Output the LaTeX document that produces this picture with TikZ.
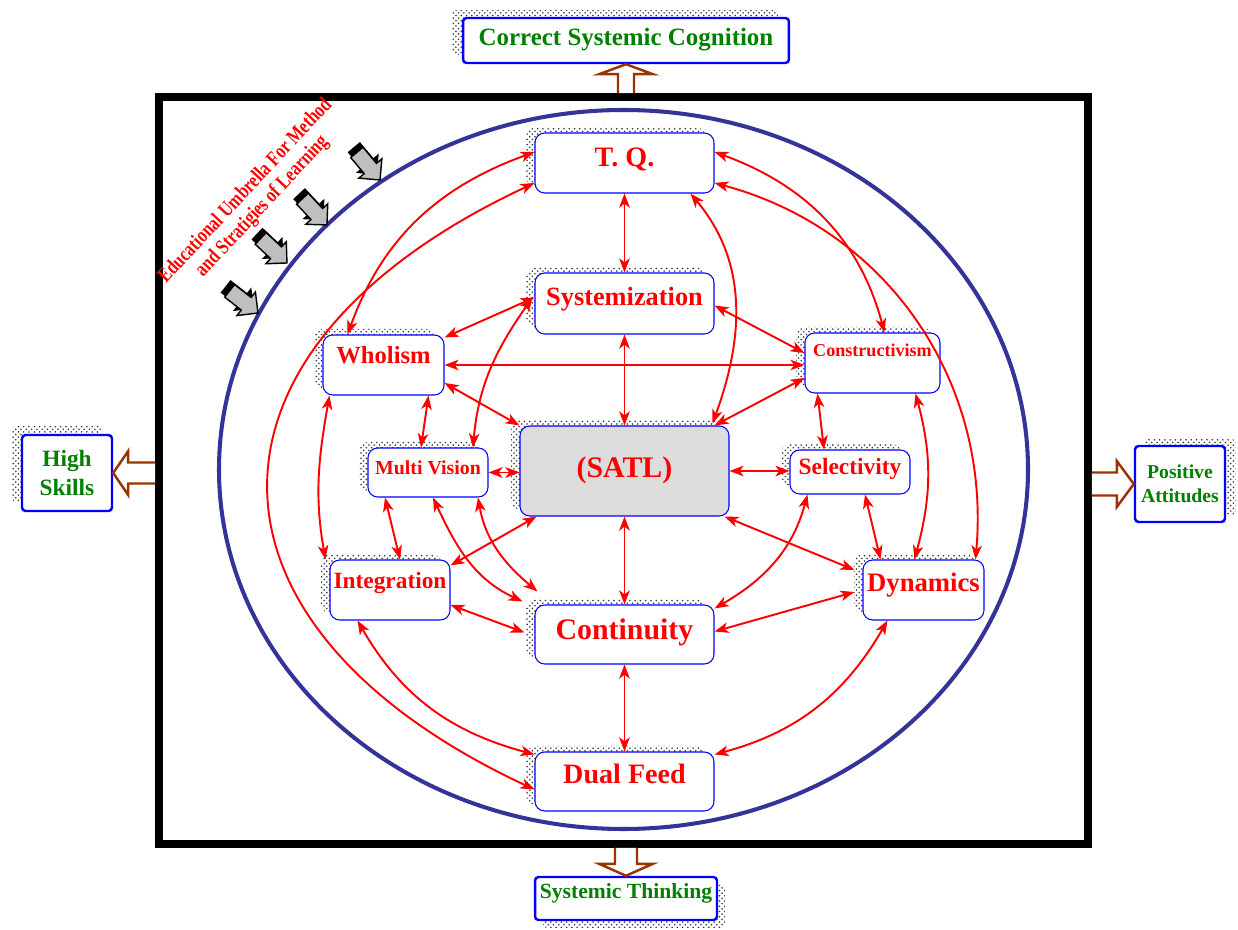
\documentclass[tikz,border=0pt]{standalone}
\usepackage{fontspec}
\setmainfont{Liberation Serif}
\usetikzlibrary{arrows.meta,calc,shadows,patterns}
\definecolor{navy}{RGB}{51,51,153}
\definecolor{rust}{RGB}{153,51,0}
\definecolor{satlgray}{RGB}{220,220,220}
\definecolor{leafgreen}{RGB}{0,128,0}
\newcommand{\bigw}{3.58cm}
\newcommand{\midw}{2.4cm}
\newcommand{\rowh}{1.2cm}

\begin{document}
\begin{tikzpicture}[x=0.02cm, y=0.02cm,
    >={Stealth[length=8pt,width=6pt,inset=2.2pt]},
    dotshade/.style 2 args={general shadow={shadow xshift=#1, shadow yshift=#2,
        pattern=crosshatch dots, pattern color=black!80}},
    fs/.style={font=\bfseries\fontsize{#1}{#1}\selectfont},
    box/.style={draw=blue, line width=0.6pt, rounded corners=5.5pt, fill=white,
        text=red, inner sep=0pt, dotshade={-5pt}{3.5pt}},
    outbox/.style={draw=blue, line width=1.4pt, rounded corners=2pt, fill=white,
        text=leafgreen, inner sep=0pt, align=center},
    link/.style={<->, red, line width=1.1pt},
    hollow/.style={draw=rust, line width=1.4pt, fill=white, line join=miter},
    tile/.style={fill=black!25, draw=black, line width=0.8pt, line join=miter}]
    \useasboundingbox (0,0) rectangle (1238,930);

    % frame and umbrella
    \node[draw, line width=4.5pt, inner sep=0pt, minimum width=18.58cm,
        minimum height=14.94cm] (frame) at (623.5,459.5) {};
    \draw[navy, line width=2.3pt] (623.5,460.5) ellipse [x radius=404.5, y radius=359.5];
    \node[text=red, font=\bfseries\fontsize{12}{13}\selectfont, align=center, rotate=47]
        (umb) at (254,731) {\scalebox{0.78}[1]{Educational Umbrella For Method}\\
        \scalebox{0.78}[1]{and Stratigies of Learning}};
    \foreach \tx/\ty/\ang in {380/750/-50, 327/705/-47, 287/667/-43, 258/617/-38} {
        \begin{scope}[shift={(\tx,\ty)}, rotate=\ang]
            \fill[black, shift={(-6,1)}] (0,0) -- (-15,15) -- (-15,8) -- (-36,8)
                -- (-36,-8) -- (-15,-8) -- (-15,-15) -- cycle;
            \draw[tile] (0,0) -- (-15,15) -- (-15,8) -- (-36,8)
                -- (-36,-8) -- (-15,-8) -- (-15,-15) -- cycle;
        \end{scope}
    }

    % inner boxes
    \node[box, fs=16, minimum width=\bigw, minimum height=\rowh, text depth=7pt] (tq) at (624.5,767) {T. Q.};
    \node[box, fs=15, minimum width=\bigw, minimum height=1.22cm, text depth=8pt] (sys) at (624.5,626.5) {Systemization};
    \node[box, fs=14, minimum width=2.42cm, minimum height=\rowh, text depth=11pt] (who) at (383.5,565) {Wholism};
    \node[box, fs=10.3, minimum width=2.7cm, minimum height=\rowh, text depth=15pt] (con) at (872.5,567) {Constructivism};
    \node[box, fs=11.3, minimum width=\midw, minimum height=0.98cm, text depth=6pt] (mv) at (428,457.5) {Multi Vision};
    \node[box, fs=17, fill=satlgray, minimum width=4.18cm, minimum height=1.8cm, text depth=4.5pt] (satl) at (624.5,459) {(SATL)};
    \node[box, fs=13.3, minimum width=\midw, minimum height=0.88cm, text depth=6pt] (sel) at (850,458) {Selectivity};
    \node[box, fs=13.3, minimum width=\midw, minimum height=\rowh, text depth=11pt] (integ) at (390,340) {Integration};
    \node[box, fs=17, minimum width=\bigw, minimum height=1.18cm, text depth=6pt] (cont) at (624.5,295.5) {Continuity};
    \node[box, fs=15.2, minimum width=2.42cm, minimum height=\rowh, text depth=9pt] (dyn) at (923.5,340) {Dynamics};
    \node[box, fs=16, minimum width=\bigw, minimum height=1.18cm, text depth=9pt] (dual) at (624.5,148.5) {Dual Feed};

    % outcome boxes
    \node[outbox, fs=14.2, minimum width=6.52cm, minimum height=0.9cm, text depth=4.5pt,
        dotshade={-6pt}{4.5pt}] (csc) at (626,889.5) {Correct Systemic Cognition};
    \node[outbox, font=\bfseries\fontsize{13.3}{16}\selectfont, minimum width=1.8cm,
        minimum height=1.52cm, dotshade={-5.5pt}{5pt}] (hs) at (67,457) {High\\Skills};
    \node[outbox, font=\bfseries\fontsize{11.2}{13.6}\selectfont, minimum width=1.8cm,
        minimum height=1.52cm, dotshade={6pt}{4pt}] (pa) at (1180,446) {Positive\\Attitudes};
    \node[outbox, fs=12.3, minimum width=3.64cm, minimum height=0.86cm, text depth=8pt,
        dotshade={4.5pt}{-4.5pt}] (st) at (626,31.5) {Systemic Thinking};

    % hollow arrows out of the frame
    \coordinate (uptip) at (csc.south);
    \coordinate (upbase) at (frame.north -| csc.south);
    \draw[hollow] ($(upbase)+(-8,0)$) -- ($(uptip)+(-8,-10)$) -- ($(uptip)+(-27,-10)$) -- (uptip)
        -- ($(uptip)+(27,-10)$) -- ($(uptip)+(8,-10)$) -- ($(upbase)+(8,0)$);
    \coordinate (ltip) at (hs.east);
    \coordinate (lbase) at (frame.west |- hs.east);
    \draw[hollow] ($(lbase)+(0,10.5)$) -- ($(ltip)+(15,10.5)$) -- ($(ltip)+(15,22)$) -- (ltip)
        -- ($(ltip)+(15,-22)$) -- ($(ltip)+(15,-10.5)$) -- ($(lbase)+(0,-10.5)$);
    \coordinate (rtip) at (pa.west);
    \coordinate (rbase) at (frame.east |- pa.west);
    \draw[hollow] ($(rbase)+(0,11.5)$) -- ($(rtip)+(-17,11.5)$) -- ($(rtip)+(-17,23)$) -- (rtip)
        -- ($(rtip)+(-17,-23)$) -- ($(rtip)+(-17,-11.5)$) -- ($(rbase)+(0,-11.5)$);
    \coordinate (dtip) at (st.north);
    \coordinate (dbase) at (frame.south -| st.north);
    \draw[hollow] ($(dbase)+(-11,0)$) -- ($(dtip)+(-11,12)$) -- ($(dtip)+(-27,12)$) -- (dtip)
        -- ($(dtip)+(27,12)$) -- ($(dtip)+(11,12)$) -- ($(dbase)+(11,0)$);

    % straight links
    \draw[link] (tq) -- (sys);
    \draw[link] (sys) -- (satl);
    \draw[link] (satl) -- (cont);
    \draw[link] (cont) -- (dual);
    \draw[link] (who.east) -- (who.east -| con.west);
    \draw[link] (mv.east) -- (mv.east -| satl.west);
    \draw[link] (satl.east) -- (satl.east -| sel.west);
    \draw[link] ($(who.north east)+(0,-3)$) -- ($(sys.west)+(0,6)$);
    \draw[link] ($(sys.east)+(0,-2)$) -- ($(con.west)+(0,10)$);
    \draw[link] ($(satl.north east)+(-15,0)$) -- ($(con.west)+(0,-15)$);
    \draw[link] ($(who.east)+(0,-18)$) -- (satl.north west);
    \draw[link] ($(who.south)+(45,0)$) -- ($(mv.north)+(-7,0)$);
    \draw[link] ($(con.south west)+(13,0)$) -- ($(sel.north)+(-26,0)$);
    \draw[link] ($(sel.south)+(15,0)$) -- ($(dyn.north)+(-43,0)$);
    \draw[link] ($(satl.south east)+(-5,0)$) -- ($(dyn.west)+(-8,20)$);
    \draw[link] ($(cont.east)+(0,3)$) -- ($(dyn.west)+(-8,-2)$);
    \draw[link] ($(integ.north east)+(0,-6)$) -- ($(satl.south west)+(17,0)$);
    \draw[link] ($(integ.east)+(0,-15)$) -- ($(cont.west)+(-10,2)$);
    \draw[link] ($(mv.south)+(-43,0)$) -- ($(integ.north)+(10,0)$);

    % curved links
    \draw[link] ($(mv.north)+(45,0)$) to[out=85,in=235] ($(sys.west)+(-2,6)$);
    \draw[link] ($(tq.west)+(0,11)$) to[out=200,in=70] ($(who.north)+(-36,0)$);
    \draw[link] ($(tq.east)+(0,11)$) to[out=-20,in=105] ($(con.north)+(12,0)$);
    \draw[link] ($(tq.west)+(0,-20)$) to[out=205,in=155,looseness=1.65] ($(dual.west)+(0,-8)$);
    \draw[link] ($(tq.east)+(0,-20)$) to[out=-15,in=85] ($(dyn.north east)+(-9,0)$);
    \draw[link] ($(tq.south)+(66,0)$) to[out=-50,in=70] ($(satl.north east)+(-17,2)$);
    \draw[link] ($(who.south west)+(7,0)$) to[out=260,in=100] ($(integ.north west)+(-4,0)$);
    \draw[link] ($(con.south east)+(-25,0)$) to[out=-75,in=75] ($(dyn.north)+(-9,0)$);
    \draw[link] ($(integ.south west)+(28,0)$) to[out=-60,in=165] ($(dual.west)+(0,27)$);
    \draw[link] ($(dyn.south west)+(25,0)$) to[out=-120,in=15] ($(dual.east)+(0,27)$);
    \draw[link] ($(sel.south west)+(18,0)$) to[out=255,in=30] ($(cont.east)+(0,26)$);
    \draw[link] ($(mv.south)+(5,0)$) to[out=-65,in=155] ($(cont.north west)+(-12,3)$);
    \draw[link] ($(mv.south)+(50,0)$) to[out=-80,in=140] ($(cont.north west)+(3,13)$);
\end{tikzpicture}
\end{document}
